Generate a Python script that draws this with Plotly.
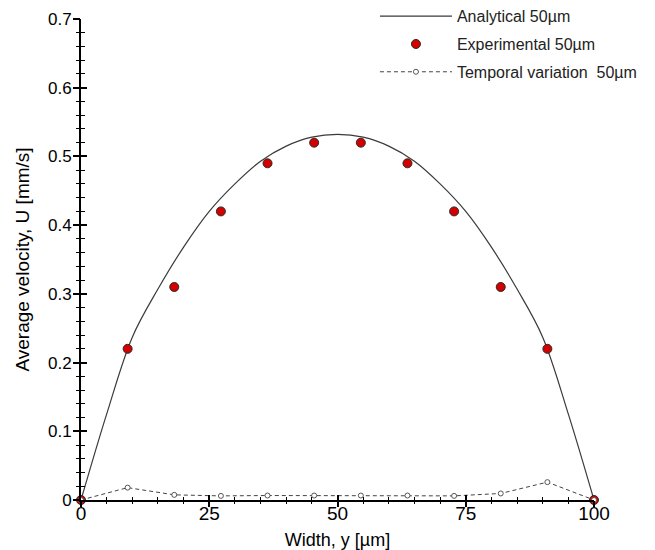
import plotly.graph_objects as go

# Channel width positions (µm)
width_pts = [0, 9.09, 18.18, 27.27, 36.36, 45.45, 54.55, 63.64, 72.73, 81.82, 90.91, 100]
# Measured average velocity (mm/s)
u_experimental = [0, 0.22, 0.31, 0.42, 0.49, 0.52, 0.52, 0.49, 0.42, 0.31, 0.22, 0]
# Temporal variation of the velocity (mm/s)
u_temporal = [0, 0.018, 0.0075, 0.006, 0.0065, 0.0065, 0.0065, 0.0065, 0.006, 0.0095, 0.026, 0]

# Analytical profile sampled across the width
width_curve = [0, 5, 10, 15, 20, 25, 30, 35, 40, 45, 50,
               55, 60, 65, 70, 75, 80, 85, 90, 95, 100]
u_analytical = [0, 0.125, 0.237, 0.307, 0.368, 0.42, 0.46, 0.493, 0.515, 0.528, 0.532,
                0.528, 0.515, 0.493, 0.46, 0.42, 0.368, 0.307, 0.237, 0.125, 0]

x_ticks = [0, 25, 50, 75, 100]
y_ticks = [0, 0.1, 0.2, 0.3, 0.4, 0.5, 0.6, 0.7]
y_tick_text = ["0", "0.1", "0.2", "0.3", "0.4", "0.5", "0.6", "0.7"]

FONT = "Liberation Sans, Arial, sans-serif"

fig = go.Figure()

fig.add_trace(go.Scatter(
    x=width_curve, y=u_analytical, mode="lines", name="Analytical 50µm",
    line=dict(color="#3a3a3a", width=1.2, shape="spline", smoothing=1.0),
    cliponaxis=False, legendgroup="a",
))
fig.add_trace(go.Scatter(
    x=width_pts, y=u_experimental, mode="markers", name="Experimental 50µm",
    marker=dict(symbol="circle", size=9, color="#d40000",
                line=dict(color="#2a2a2a", width=1)),
    cliponaxis=False, legendgroup="b",
))
fig.add_trace(go.Scatter(
    x=width_pts, y=u_temporal, mode="lines+markers", name="Temporal variation  50µm",
    line=dict(color="#444444", width=1, dash="4px,3px"),
    marker=dict(symbol="circle", size=5, color="white",
                line=dict(color="#555555", width=1)),
    cliponaxis=False, legendgroup="c",
))
# Empty trace that anchors the overlay axes carrying the outward tick marks
fig.add_trace(go.Scatter(x=[], y=[], xaxis="x2", yaxis="y2", showlegend=False,
                         hoverinfo="skip"))

axis_common = dict(showgrid=False, zeroline=False, showline=True,
                   linecolor="black", linewidth=2, automargin=False)

fig.update_layout(
    width=655, height=550,
    margin=dict(l=81, r=61, t=19, b=50, autoexpand=False),
    paper_bgcolor="white", plot_bgcolor="white",
    font=dict(family=FONT, color="black"),
    xaxis=dict(
        range=[0, 100], tickvals=x_ticks, ticktext=[str(v) for v in x_ticks],
        ticks="inside", ticklen=5, tickwidth=2, tickcolor="black",
        tickfont=dict(size=19, family=FONT), ticklabelstandoff=-5,
        minor=dict(dtick=5, ticks="inside", ticklen=3, tickwidth=1, tickcolor="black"),
        title=dict(text="Width, y [µm]", font=dict(size=18, family=FONT), standoff=14),
        **axis_common,
    ),
    yaxis=dict(
        range=[0, 0.7], tickvals=y_ticks, ticktext=y_tick_text,
        ticks="inside", ticklen=6, tickwidth=2, tickcolor="black",
        tickfont=dict(size=17, family=FONT), ticklabelstandoff=4,
        minor=dict(dtick=0.02, ticks="inside", ticklen=4, tickwidth=1, tickcolor="black"),
        title=dict(text="Average velocity, U [mm/s]", font=dict(size=19, family=FONT), standoff=13),
        **axis_common,
    ),
    xaxis2=dict(
        overlaying="x", range=[0, 100], tickvals=x_ticks, showticklabels=False,
        ticks="outside", ticklen=6, tickwidth=2, tickcolor="black",
        minor=dict(dtick=5, ticks="outside", ticklen=3, tickwidth=1, tickcolor="black"),
        showgrid=False, zeroline=False, showline=False, automargin=False,
    ),
    yaxis2=dict(
        overlaying="y", range=[0, 0.7], tickvals=y_ticks, showticklabels=False,
        ticks="outside", ticklen=7, tickwidth=2, tickcolor="black",
        minor=dict(dtick=0.02, ticks="outside", ticklen=4, tickwidth=1, tickcolor="black"),
        showgrid=False, zeroline=False, showline=False, automargin=False,
    ),
    legend=dict(
        x=0.573, y=1.041, xanchor="left", yanchor="top",
        bgcolor="rgba(0,0,0,0)", borderwidth=0,
        font=dict(size=16, family=FONT, color="#222222"),
        itemwidth=72, tracegroupgap=4,
    ),
    showlegend=True,
)

fig.write_html("out.html")
